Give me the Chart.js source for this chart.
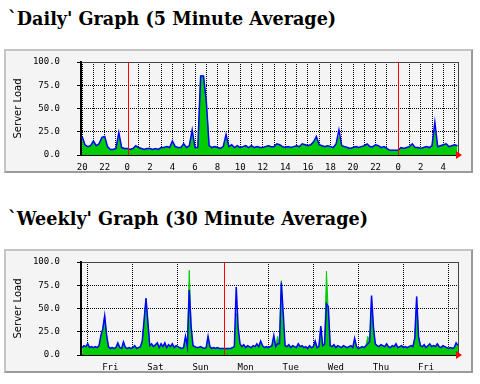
<!DOCTYPE html>
<html>
<head>
<meta charset="utf-8">
<script src="https://cdn.jsdelivr.net/npm/chart.js"></script>
<title>Server Load</title>
<style>
  body { margin: 0; background: #fff; }
  h3 { position: absolute; left: 8px; margin: 0; font: bold 17.6px "DejaVu Serif", serif; color: #000; white-space: nowrap; }
  .panel { position: absolute; left: 4px; width: 465px; height: 120px; background: #f4f4f4;
           border: 2px solid #c4c4c4; border-right-color: #9a9a9a; border-bottom-color: #9a9a9a; }
  .panel canvas { position: absolute; left: 0; top: 0; }
</style>
</head>
<body>
  <h3 style="top:8px">`Daily' Graph (5 Minute Average)</h3>
  <div class="panel" style="top:49px"><canvas id="daily" width="465" height="120"></canvas></div>

  <h3 style="top:208px">`Weekly' Graph (30 Minute Average)</h3>
  <div class="panel" style="top:249px"><canvas id="weekly" width="465" height="120"></canvas></div>

<script>
// y axis
const yTicks = [0, 25, 50, 75, 100];

// daily: one sample every 15 min, starting 20:00 (hours counted from 20:00)
const dailyLabels = ['20', '22', '0', '2', '4', '6', '8', '10', '12', '14', '16', '18', '20', '22', '0', '2', '4'];
const dailyMidnights = [4, 28];
// green (in)
const dailyIn = [
  19, 11, 9, 10,  14, 10, 12, 18,  19, 9, 6, 6,  7, 22, 8, 7,
  7, 6, 7, 9,  8, 7, 6, 7,  7, 6, 7, 6,  8, 8, 9, 8,
  14, 9, 8, 8,  11, 8, 10, 24,  8, 8, 85, 85,  58, 10, 8, 9,
  8, 7, 9, 20,  9, 10, 8, 10,  8, 9, 10, 8,  10, 8, 9, 8,
  8, 9, 10, 9,  9, 11, 11, 9,  8, 9, 8, 9,  10, 9, 11, 11,
  10, 11, 15, 18,  11, 10, 9, 10,  9, 8, 12, 20,  10, 9, 8, 7,
  8, 9, 8, 9,  10, 11, 9, 9,  10, 10, 8, 9,  7, 5, 5, 5,
  5, 8, 7, 8,  9, 11, 8, 8,  7, 8, 9, 8,  10, 27, 9, 10,
  11, 11, 9, 10,  11, 10
];
// blue (out)
const dailyOut = [
  20, 11, 9, 10,  15, 10, 12, 19,  20, 9, 6, 6,  7, 24, 8, 7,
  7, 6, 7, 10,  8, 7, 6, 7,  7, 6, 7, 6,  8, 8, 9, 8,
  15, 9, 8, 8,  12, 8, 10, 27,  8, 8, 85, 85,  58, 10, 8, 9,
  8, 7, 9, 22,  9, 11, 8, 10,  8, 9, 10, 8,  10, 8, 9, 8,
  8, 9, 10, 9,  9, 12, 11, 9,  8, 9, 8, 9,  10, 9, 12, 11,
  10, 11, 14, 20,  11, 10, 9, 10,  9, 8, 12, 27,  10, 9, 8, 7,
  8, 9, 8, 9,  10, 12, 9, 9,  11, 10, 8, 9,  7, 5, 5, 5,
  5, 8, 7, 8,  9, 12, 8, 8,  7, 8, 9, 8,  10, 35, 9, 10,
  11, 12, 9, 10,  11, 10
];

// weekly: one sample per hour, starting Thu 21:00 (hours counted from Fri 00:00)
const weekDays = ['Fri', 'Sat', 'Sun', 'Mon', 'Tue', 'Wed', 'Thu', 'Fri'];
const weeklyRedHours = [72];
const weeklyIn = [
  8, 10, 9,
  12, 8, 9, 8, 9, 8, 10, 20, 28, 42, 22, 9, 7, 8, 7, 8, 13, 8, 7, 14, 8, 7, 8, 7,
  8, 10, 7, 8, 9, 15, 36, 61, 35, 10, 12, 9, 11, 13, 8, 12, 9, 13, 8, 11, 9, 12, 8, 10,
  9, 8, 7, 8, 20, 9, 91, 30, 10, 9, 8, 8, 9, 8, 7, 8, 20, 9, 7, 8, 7, 8, 7, 7,
  7, 7, 7, 7, 7, 8, 9, 45, 25, 12, 9, 11, 8, 10, 9, 8, 10, 9, 12, 9, 15, 10, 8, 9,
  8, 9, 10, 20, 9, 20, 12, 80, 30, 10, 9, 11, 8, 10, 9, 8, 12, 9, 10, 8, 9, 7, 10, 8,
  9, 15, 8, 9, 28, 10, 12, 90, 45, 10, 9, 11, 8, 10, 9, 8, 10, 9, 8, 9, 10, 8, 17, 9,
  7, 8, 9, 8, 10, 20, 14, 60, 28, 12, 10, 9, 11, 10, 9, 12, 9, 8, 10, 9, 12, 8, 9, 10,
  8, 9, 8, 9, 10, 9, 18, 60, 20, 10, 9, 11, 8, 10, 12, 9, 10, 9, 12, 9, 8, 10, 9, 8,
  7, 8, 7, 8, 12, 10
];
const weeklyOut = [
  8, 10, 9,
  12, 8, 9, 8, 9, 8, 10, 21, 28, 42, 22, 9, 7, 8, 7, 8, 13, 8, 7, 14, 8, 7, 8, 7,
  8, 10, 7, 8, 9, 15, 38, 61, 35, 10, 12, 9, 11, 13, 8, 12, 9, 13, 8, 11, 9, 12, 8, 10,
  9, 8, 7, 8, 20, 9, 70, 30, 10, 9, 8, 8, 9, 8, 7, 8, 20, 9, 7, 8, 7, 8, 7, 7,
  7, 7, 7, 7, 7, 8, 9, 73, 30, 12, 9, 11, 8, 10, 9, 8, 10, 9, 12, 9, 15, 10, 8, 9,
  8, 9, 10, 21, 9, 12, 12, 78, 45, 10, 9, 11, 8, 10, 9, 8, 12, 9, 10, 8, 9, 7, 10, 8,
  9, 15, 8, 9, 31, 10, 12, 55, 52, 10, 9, 11, 8, 10, 9, 8, 10, 9, 8, 9, 10, 8, 18, 9,
  7, 8, 9, 8, 10, 12, 14, 64, 30, 12, 10, 9, 11, 10, 9, 12, 9, 8, 10, 9, 12, 8, 9, 10,
  8, 9, 8, 9, 10, 9, 18, 63, 20, 10, 9, 11, 8, 10, 12, 9, 10, 9, 12, 9, 8, 10, 9, 8,
  7, 8, 7, 8, 13, 10
];

const mono = { family: 'DejaVu Sans Mono', size: 9 };

// red day/week boundary lines, right edge of the plot and the red "now" arrow
const framePlugin = {
  id: 'frame',
  afterDatasetsDraw(chart, args, opts) {
    const { ctx, chartArea: a } = chart;
    const xs = chart.scales.x;
    ctx.save();
    ctx.fillStyle = '#ff0000';
    (opts.red || []).forEach(v => {
      // snap to an even pixel column so the 1px line keeps its colour
      const px = 2 * Math.round(xs.getPixelForValue(v) / 2);
      ctx.fillRect(px, a.top, 1, a.bottom - a.top);
    });
    ctx.restore();
  },
  afterDraw(chart) {
    const { ctx, chartArea: a } = chart;
    ctx.save();
    ctx.fillStyle = '#444';
    ctx.fillRect(Math.round(a.right), a.top, 1, a.bottom - a.top);
    ctx.fillStyle = '#ff0000';
    ctx.beginPath();
    ctx.moveTo(a.right - 2, a.bottom - 4);
    ctx.lineTo(a.right + 4, a.bottom);
    ctx.lineTo(a.right - 2, a.bottom + 4);
    ctx.closePath();
    ctx.fill();
    ctx.restore();
  }
};

function xAxis(min, max, tickValues, isLine, label) {
  return {
    type: 'linear', min: min, max: max,
    afterBuildTicks: s => { s.ticks = tickValues.map(v => ({ value: v })); },
    afterFit: s => { s.height = 16; s.paddingLeft = 0; s.paddingRight = 0; },
    grid: {
      drawTicks: false,
      color: '#000',
      lineWidth: c => (c.tick && isLine(c.tick.value)) ? 1 : 0
    },
    border: { color: '#000', width: 2, dash: c => c.type === 'tick' ? [1, 1] : [] },
    ticks: { autoSkip: false, maxRotation: 0, padding: 7, font: mono, color: '#000', callback: v => label(v) }
  };
}

function drawGraph(id, inPts, outPts, xScale, redLines) {
  new Chart(document.getElementById(id), {
    type: 'line',
    data: {
      datasets: [
        { data: outPts, borderColor: '#0000ff', borderWidth: 1.5, pointRadius: 0, fill: false, order: 0 },
        { data: inPts, borderColor: '#00cc00', backgroundColor: '#00cc00', borderWidth: 1, pointRadius: 0, fill: 'origin', order: 1 }
      ]
    },
    options: {
      responsive: false,
      animation: false,
      devicePixelRatio: 1,
      layout: { padding: { top: 11, right: 13, left: 0, bottom: 0 } },
      plugins: { legend: { display: false }, tooltip: { enabled: false }, frame: { red: redLines } },
      scales: {
        x: xScale,
        y: {
          min: 0, max: 100,
          afterBuildTicks: s => { s.ticks = yTicks.map(v => ({ value: v })); },
          afterFit: s => { s.width = 75; s.paddingTop = 0; s.paddingBottom = 0; },
          grid: { color: c => c.tick && c.tick.value === 100 ? '#444' : '#000', tickLength: 4, tickColor: '#000', tickBorderDash: [] },
          border: { color: '#000', width: 2, dash: c => (c.type === 'tick' && c.tick.value > 0 && c.tick.value < 100) ? [1, 1] : [] },
          ticks: { padding: 17, font: mono, color: '#000', callback: v => v.toFixed(1) },
          title: { display: true, text: 'Server Load', color: '#000', font: { family: 'DejaVu Sans', size: 10 }, padding: { top: 6, bottom: 0 } }
        }
      }
    },
    plugins: [framePlugin]
  });
}

// daily: dotted line every hour, labels every 2 hours, red at midnight
const dailyHourTicks = [];
for (let h = 0; h <= 33; h++) dailyHourTicks.push(h);
drawGraph('daily',
  dailyIn.map((v, i) => ({ x: i * 0.25, y: v })),
  dailyOut.map((v, i) => ({ x: i * 0.25, y: v })),
  xAxis(-0.1, 33.3, dailyHourTicks,
    v => !dailyMidnights.includes(v),
    v => v % 2 === 0 ? (dailyLabels[v / 2] || '') : ''),
  dailyMidnights);

// weekly: dotted line at midnight, day names at noon, red at the week start
const weeklyTicks = [];
for (let d = 0; d <= weekDays.length; d++) {
  weeklyTicks.push(d * 24);
  if (d < weekDays.length) weeklyTicks.push(d * 24 + 12);
}
drawGraph('weekly',
  weeklyIn.map((v, i) => ({ x: i - 3, y: v })),
  weeklyOut.map((v, i) => ({ x: i - 3, y: v })),
  xAxis(-3.6, 197.0, weeklyTicks,
    v => v % 24 === 0 && !weeklyRedHours.includes(v),
    v => v % 24 === 12 ? weekDays[(v - 12) / 24] : ''),
  weeklyRedHours);
</script>
</body>
</html>
